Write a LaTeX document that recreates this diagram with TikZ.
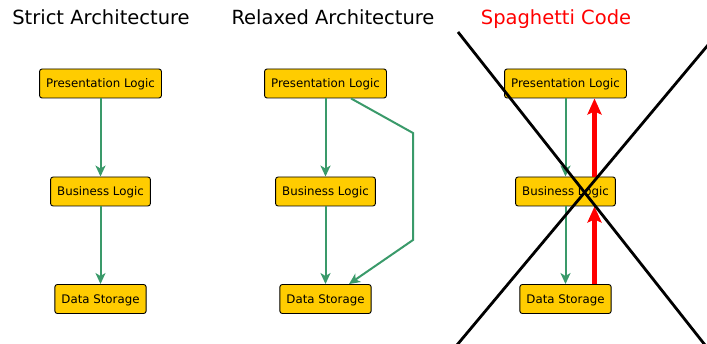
\documentclass[tikz,border=0pt]{standalone}
\usepackage{fontspec}
\setmainfont{DejaVu Sans}
\usetikzlibrary{arrows.meta}
\definecolor{boxfill}{HTML}{FFCC00}
\definecolor{flow}{HTML}{3A9A6A}
\begin{document}
\begin{tikzpicture}[x=1pt,y=-1pt,
  layer/.style={draw=black, fill=boxfill, rounded corners=2.5pt, line width=0.9pt,
    minimum height=29pt, inner xsep=6.6pt, inner ysep=0pt,
    font=\fontsize{11.8}{13}\selectfont, text height=10pt, text depth=1pt},
  title/.style={anchor=base, inner sep=0pt, font=\fontsize{19.5}{22}\selectfont},
  flowarrow/.style={draw=flow, line width=2pt, -{Stealth[length=11pt,width=10pt,inset=3pt]}},
  badarrow/.style={draw=red, line width=5pt, -{Stealth[length=16pt,width=14pt,inset=3pt]}},
  cross/.style={draw=black, line width=2.8pt}]
\useasboundingbox (0,0) rectangle (707,344);

% titles
\node[title] (t1) at (101,25) {Strict Architecture};
\node[title] (t2) at (333,25) {Relaxed Architecture};
\node[title, text=red] (t3) at (556,25) {Spaghetti Code};

% strict
\node[layer] (ap) at (100.5,83.5) {Presentation Logic};
\node[layer] (ab) at (100.5,191.5) {Business Logic};
\node[layer] (ad) at (100.5,299) {Data Storage};
\draw[flowarrow] (ap) -- (ab);
\draw[flowarrow] (ab) -- (ad);

% relaxed
\node[layer] (rp) at (325.5,83.5) {Presentation Logic};
\node[layer] (rb) at (325.5,191.5) {Business Logic};
\node[layer] (rd) at (325.5,299) {Data Storage};
\coordinate (r1) at (413,133);
\coordinate (r2) at (413,240);
\draw[flowarrow] (rp) -- (rb);
\draw[flowarrow] (rb) -- (rd);
\draw[flowarrow] ([xshift=25.5pt]rp.south) -- (r1) -- (r2) -- ([xshift=23.5pt]rd.north);

% spaghetti
\node[layer] (sp) at (565.5,83.5) {Presentation Logic};
\node[layer] (sb) at (565.5,191.5) {Business Logic};
\node[layer] (sd) at (565.5,299) {Data Storage};
\draw[flowarrow] (sp) -- (sb);
\draw[flowarrow] (sb) -- (sd);
\draw[badarrow] ([xshift=29pt]sb.north) -- ([xshift=29pt]sp.south);
\draw[badarrow] ([xshift=29pt]sd.north) -- ([xshift=29pt]sb.south);

% cross
\coordinate (c1) at (458,32);
\coordinate (c2) at (705,345);
\coordinate (c3) at (457,345);
\coordinate (c4) at (708,45);
\draw[cross] (c1) -- (c2);
\draw[cross] (c3) -- (c4);
\end{tikzpicture}
\end{document}
